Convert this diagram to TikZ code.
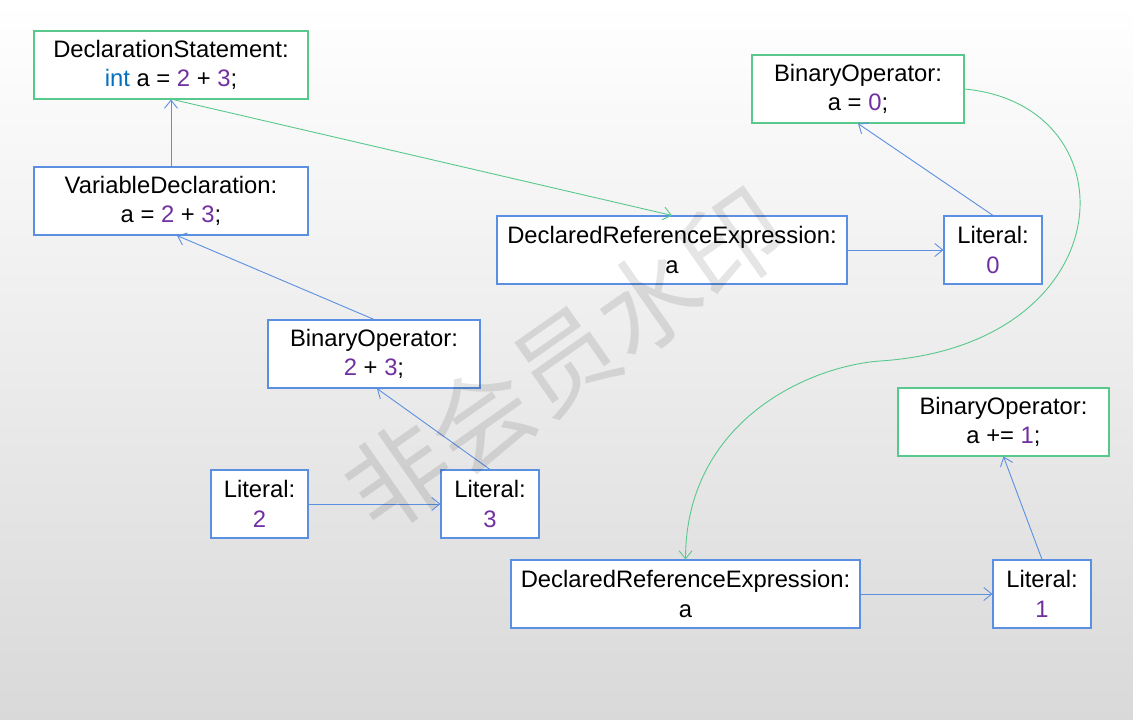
\documentclass[tikz,border=0pt]{standalone}
\usepackage{fontspec}
\setmainfont{Liberation Sans}
\newfontfamily\cjk{Noto Sans CJK SC}
\usetikzlibrary{arrows.meta}
\definecolor{bbox}{RGB}{91,143,226}
\definecolor{gbox}{RGB}{88,200,140}
\definecolor{kw}{RGB}{0,112,192}
\definecolor{num}{RGB}{112,48,160}
\definecolor{bgbot}{RGB}{217,217,217}
\begin{document}
\begin{tikzpicture}[x=1pt,y=-1pt,
  bx/.style={draw=bbox, line width=1.1pt, fill=white, inner sep=0pt, align=center,
     minimum height=68pt, font=\fontsize{23.8}{29.5}\selectfont},
  gx/.style={bx, draw=gbox},
  bl/.style={draw=bbox, line width=0.9pt, -{Straight Barb[length=8pt,width=13pt]}},
  gr/.style={bl, draw=gbox},
  nm/.style={text=num}]
\useasboundingbox (0,0) rectangle (1133,720);
\shade[top color=white, bottom color=bgbot] (0,0) rectangle (1133,720);

\node[gx, minimum width=274pt] (ds) at (171,65) {DeclarationStatement:\\{\color{kw}int} a = {\color{num}2} + {\color{num}3};};
\node[bx, minimum width=274pt] (vd) at (171,201) {VariableDeclaration:\\a = {\color{num}2} + {\color{num}3};};
\node[bx, minimum width=212pt] (b23) at (374,354) {BinaryOperator:\\{\color{num}2} + {\color{num}3};};
\node[bx, minimum width=97pt] (l2) at (259.5,504) {Literal:\\{\color{num}2}};
\node[bx, minimum width=98pt] (l3) at (490,504) {Literal:\\{\color{num}3}};
\node[bx, minimum width=350pt] (dre1) at (672,250) {DeclaredReferenceExpression:\\a};
\node[bx, minimum width=98pt] (l0) at (993,250) {Literal:\\{\color{num}0}};
\node[gx, minimum width=212pt] (ba0) at (858,89) {BinaryOperator:\\a = {\color{num}0};};
\node[gx, minimum width=211pt] (ba1) at (1003.5,422) {BinaryOperator:\\a += {\color{num}1};};
\node[bx, minimum width=349pt] (dre2) at (685.5,594) {DeclaredReferenceExpression:\\a};
\node[bx, minimum width=98pt] (l1) at (1042,594) {Literal:\\{\color{num}1}};

\draw[bl] (vd) -- (ds);
\draw[bl] (b23.north) -- ([xshift=6pt]vd.south);
\draw[bl] (l3.north) -- ([xshift=3pt]b23.south);
\draw[bl] (l2) -- (l3);
\draw[gr] ([xshift=2pt]ds.south) -- (dre1.north);
\draw[bl] (dre1) -- (l0);
\draw[bl] (l0.north) -- (ba0.south);
\draw[bl] (l1.north) -- (ba1.south);
\draw[bl] (dre2) -- (l1);
\coordinate (mid) at (880,361);
\draw[gr] (ba0.east) .. controls (1135,105) and (1125,345) .. (mid)
   .. controls (810,366) and (686,420) .. (dre2.north);

\node[rotate=35, text=black, opacity=0.10, inner sep=0pt,
   font=\cjk\fontsize{102}{102}\selectfont] (wm) at (565,360) {非会员水印};
\end{tikzpicture}
\end{document}
